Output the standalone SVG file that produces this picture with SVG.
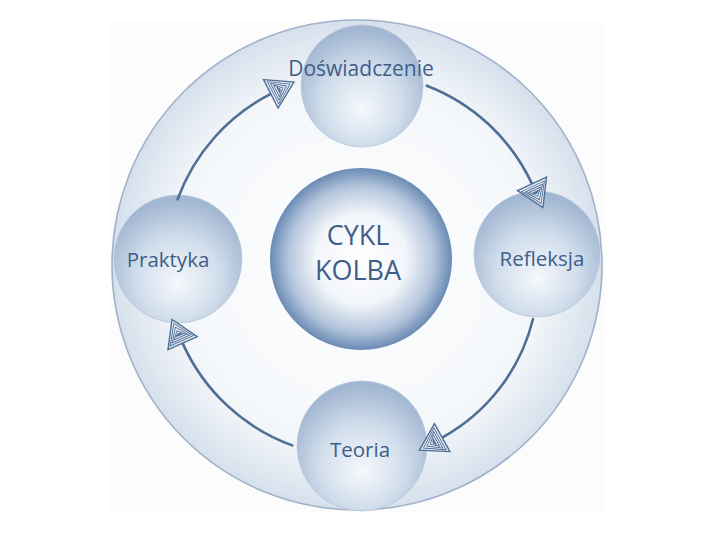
<svg xmlns="http://www.w3.org/2000/svg" width="720" height="540" viewBox="0 0 720 540">
  <defs>
    <radialGradient id="gOuter" cx="50%" cy="50%" r="50%">
      <stop offset="0" stop-color="#ffffff"/>
      <stop offset="0.75" stop-color="#f4f7fa"/>
      <stop offset="1" stop-color="#d6e0ec"/>
    </radialGradient>
    <radialGradient id="gCenter" cx="50%" cy="50%" r="50%">
      <stop offset="0" stop-color="#ffffff"/>
      <stop offset="0.5" stop-color="#f2f5fa"/>
      <stop offset="0.8" stop-color="#b3c5dc"/>
      <stop offset="1" stop-color="#6a8ab4"/>
    </radialGradient>
    <radialGradient id="gNode" cx="50%" cy="62%" r="58%" fx="50%" fy="70%">
      <stop offset="0" stop-color="#f5f8fc"/>
      <stop offset="0.55" stop-color="#d2deec"/>
      <stop offset="1" stop-color="#a2b7d2"/>
    </radialGradient>
    <marker id="arrow" markerUnits="userSpaceOnUse" markerWidth="30" markerHeight="36" viewBox="-2 -18 30 36" refX="0" refY="0" orient="auto">
      <path d="M0,-16 L26,0 L0,16 Z" fill="#e8eef5" stroke="#4e6e96" stroke-width="1.4"/>
      <path d="M2.5,-12.5 L21.5,0 L2.5,12.5 Z" fill="none" stroke="#4e6e96" stroke-width="0.9"/>
      <path d="M4.5,-9.5 L17.5,0 L4.5,9.5 Z" fill="none" stroke="#4e6e96" stroke-width="0.9"/>
      <path d="M6.5,-6.5 L13.5,0 L6.5,6.5 Z" fill="none" stroke="#4e6e96" stroke-width="0.9"/>
      <path d="M8.5,-3.5 L10.5,0 L8.5,3.5 Z" fill="#4e6e96" stroke="#4e6e96" stroke-width="0.9"/>
    </marker>
    <style>
      .lbl { font-family: "Open Sans", "Liberation Sans", sans-serif; fill: #3f5e88; text-anchor: middle; }
      .node { fill: url(#gNode); stroke: #b8c7da; stroke-width: 0.8; }
      .conn { fill: none; stroke: #4e6e96; stroke-width: 2.6; stroke-linecap: round; marker-end: url(#arrow); }
    </style>
  </defs>

  <rect x="0" y="0" width="720" height="540" fill="#ffffff"/>
  <rect x="110" y="22" width="496" height="490" fill="#fcfcfc"/>

  <g id="outer-ring">
    <circle cx="357" cy="265" r="245" fill="url(#gOuter)" stroke="#9fb2ca" stroke-width="1.6"/>
  </g>

  <g id="node-center">
    <circle cx="361" cy="259" r="91" fill="url(#gCenter)"/>
    <text class="lbl" x="358" y="245" font-size="27">CYKL</text>
    <text class="lbl" x="358" y="280" font-size="27">KOLBA</text>
  </g>

  <g id="node-doswiadczenie">
    <circle class="node" cx="362" cy="86" r="61"/>
    <text class="lbl" x="361" y="76" font-size="21">Doświadczenie</text>
  </g>

  <g id="node-praktyka">
    <circle class="node" cx="178" cy="259" r="64"/>
    <text class="lbl" x="168" y="267" font-size="20.5">Praktyka</text>
  </g>

  <g id="node-refleksja">
    <circle class="node" cx="537" cy="254" r="63"/>
    <text class="lbl" x="542" y="266" font-size="20.5">Refleksja</text>
  </g>

  <g id="node-teoria">
    <circle class="node" cx="362" cy="446" r="65"/>
    <text class="lbl" x="360" y="457" font-size="20.5">Teoria</text>
  </g>

  <g id="connectors">
    <path class="conn" d="M177.6,199.3 A192,192 0 0 1 270.8,93.9"/>
    <path class="conn" d="M426.8,85.7 A192,192 0 0 1 532.0,183.9"/>
    <path class="conn" d="M533,319 A186,186 0 0 1 442.2,437.6"/>
    <path class="conn" d="M292.3,445.4 A192,192 0 0 1 182.6,343.1"/>
  </g>
</svg>
